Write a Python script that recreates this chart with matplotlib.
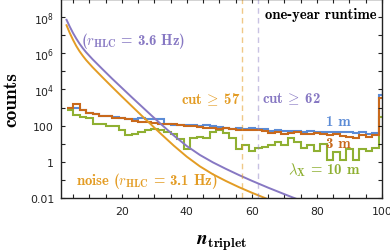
import numpy as np
import matplotlib
matplotlib.use('Agg')
import matplotlib.pyplot as plt
from matplotlib.ticker import FixedLocator, MultipleLocator, NullFormatter

plt.rcParams['mathtext.fontset'] = 'cm'

# ---------------- data ----------------
bin_edges = list(range(3, 103, 2))  # 3,5,...,101

counts_1m = [1000, 1000, 700, 470, 420, 350, 330, 300, 260, 245, 230, 250, 245,
             245, 240, 130, 110, 115, 105, 110, 100, 105, 95, 80, 70, 68, 70, 65,
             72, 68, 62, 52, 55, 50, 48, 50, 46, 48, 46, 45, 47, 44, 42, 44, 40,
             42, 36, 40, 4800]
counts_3m = [1000, 1500, 750, 480, 450, 360, 340, 280, 270, 230, 190, 160, 150,
             140, 130, 125, 117, 110, 100, 95, 85, 70, 75, 68, 70, 62, 55, 56,
             60, 55, 50, 40, 45, 36, 38, 42, 36, 35, 37, 33, 30, 34, 28, 25, 20,
             30, 24, 30, 3200]
counts_10m = [700, 400, 300, 250, 130, 120, 100, 90, 60, 30, 35, 45, 60, 68, 60,
              45, 35, 19, 5, 20, 25, 22, 45, 55, 40, 20, 5, 8, 4, 6, 7, 9, 12, 8,
              20, 12, 6, 8, 4, 10, 1.2, 3.5, 1.2, 5, 1.2, 5, 4, 6, 300]

noise36_x = [3, 4, 5, 6, 7, 8, 9, 11, 14, 17, 20, 23, 26, 29, 32, 36, 40, 44, 48,
             52, 56, 60, 65, 70, 75]
noise36_log = [7.85, 7.47, 7.12, 6.81, 6.53, 6.28, 6.06, 5.67, 5.13, 4.60, 4.09,
               3.58, 3.08, 2.58, 2.09, 1.45, 0.87, 0.38, -0.03, -0.39, -0.73,
               -1.05, -1.43, -1.79, -2.14]
noise31_x = [3, 4, 5, 6, 7, 8, 9, 11, 14, 17, 20, 23, 26, 29, 32, 36, 40, 44, 48,
             52, 56, 60, 64, 68]
noise31_log = [7.55, 7.12, 6.74, 6.40, 6.11, 5.86, 5.63, 5.23, 4.68, 4.14, 3.61,
               3.09, 2.57, 2.06, 1.55, 0.89, 0.28, -0.25, -0.69, -1.06, -1.40,
               -1.71, -2.00, -2.29]

cuts = [57, 62]

ytick_vals = [1e-2, 1, 1e2, 1e4, 1e6, 1e8]
ytick_labels = ['0.01', '1', '100', r'$10^{4}$', r'$10^{6}$', r'$10^{8}$']
xtick_vals = [20, 40, 60, 80, 100]

# ---------------- colours ----------------
BLUE = '#5B8BD6'
DORANGE = '#C8691C'
GREEN = '#8FB032'
ORANGE = '#E39C24'
PURPLE = '#8778C3'

fig = plt.figure(figsize=(3.9, 2.53), dpi=100)
ax = fig.add_axes([61/390, 1 - 199/253, 321/390, 199/253])
ax.set_yscale('log')

edges = np.array(bin_edges)
ax.stairs(counts_10m, edges, color=GREEN, lw=1.5, baseline=None)
ax.stairs(counts_1m, edges, color=BLUE, lw=1.5, baseline=None)
ax.stairs(counts_3m, edges, color=DORANGE, lw=1.5, baseline=None)
ax.plot(noise36_x, 10**np.array(noise36_log), color=PURPLE, lw=1.4)
ax.plot(noise31_x, 10**np.array(noise31_log), color=ORANGE, lw=1.4)
ax.axvline(cuts[0], color=ORANGE, ls=(0, (4, 3)), lw=1.0, alpha=0.55)
ax.axvline(cuts[1], color=PURPLE, ls=(0, (4, 3)), lw=1.0, alpha=0.45)

ax.set_xlim(1.3, 100)
ax.set_ylim(1e-2, 1e9)

ax.yaxis.set_major_locator(FixedLocator(ytick_vals))
ax.yaxis.set_minor_locator(FixedLocator([1e-1, 10, 1e3, 1e5, 1e7]))
ax.yaxis.set_minor_formatter(NullFormatter())
ax.set_yticklabels(ytick_labels)
ax.xaxis.set_major_locator(FixedLocator(xtick_vals))
ax.xaxis.set_minor_locator(MultipleLocator(5))
ax.tick_params(which='both', direction='in', top=True, right=True,
               length=3, width=0.8, labelsize=7.8, colors='#222222')
ax.tick_params(axis='y', pad=5)
ax.tick_params(axis='x', pad=5.5)
for lab in ax.get_yticklabels() + ax.get_xticklabels():
    lab.set_math_fontfamily('dejavusans')
for sp in ax.spines.values():
    sp.set_linewidth(1.0)
    sp.set_color('#222222')

tf = dict(fontfamily='cmb10', fontsize=10.6)
ax.text(7.5, 10**6.75, '(' + r'$r_{\mathbf{HLC}}$' + ' = 3.6 Hz)', color=PURPLE,
        ha='left', va='center', **tf)
ax.text(98.3, 10**8.15, 'one-year runtime', color='black', ha='right', va='center', **tf)
ax.text(56.4, 10**3.5, r'cut$\:\geq\:$57', color=ORANGE, ha='right', va='center', **tf)
ax.text(63.2, 10**3.5, r'cut$\:\geq\:$62', color=PURPLE, ha='left', va='center', **tf)
ax.text(86.7, 10**2.25, '1 m', color=BLUE, ha='center', va='center', **tf)
ax.text(86.7, 10**1.05, '3 m', color=DORANGE, ha='center', va='center', **tf)
ax.text(82.3, 10**-0.4, r'$\lambda_{\mathbf{X}}$' + ' = 10 m', color=GREEN,
        ha='center', va='center', **tf)
ax.text(5.8, 10**-1.03, 'noise (' + r'$r_{\mathbf{HLC}}$' + ' = 3.1 Hz)', color=ORANGE,
        ha='left', va='center', **tf)

ax.set_ylabel('counts', fontfamily='cmb10', fontsize=14, labelpad=7)
ax.set_xlabel(r'$\mathbfit{n}_{\mathbf{triplet}}$', fontsize=14, labelpad=12)

fig.savefig('out.png', dpi=100)
